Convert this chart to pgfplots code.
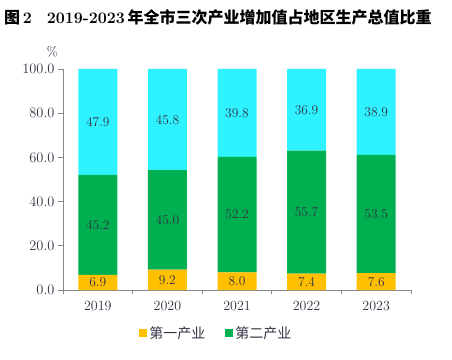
\documentclass[border=0pt]{standalone}
\usepackage{fontspec}
\usepackage{pgfplots}
\pgfplotsset{compat=1.18}
\newfontfamily\cjk{Noto Sans CJK SC}
\definecolor{cOrange}{HTML}{FFC000}
\definecolor{cGreen}{HTML}{00B050}
\definecolor{cCyan}{HTML}{2EF2FF}
\definecolor{cText}{HTML}{333344}
\definecolor{cAxis}{HTML}{888888}
\begin{document}
\begin{tikzpicture}[x=1pt,y=1pt]
\path[use as bounding box] (0,0) rectangle (452,359);
\node[anchor=west, inner sep=0pt, text=black] at (4,342)
  {\fontsize{16}{18}\selectfont\bfseries{\cjk 图}\,2\hspace{15pt}2019-2023\,{\cjk 年全市三次产业增加值占地区生产总值比重}};
\node[anchor=east, inner sep=0pt, text=cText] at (58,307) {\fontsize{13.5}{15}\selectfont\%};
\begin{axis}[
  at={(63pt,69pt)}, anchor=south west,
  scale only axis, width=348pt, height=221pt,
  ybar stacked, bar width=39pt,
  xmin=-0.5, xmax=4.5, ymin=0, ymax=100,
  axis x line*=bottom, axis y line*=left,
  axis line style={cAxis, line width=0.8pt},
  xtick={0,1,2,3,4},
  xticklabels={2019,2020,2021,2022,2023},
  major x tick style={draw=none},
  minor xtick={-0.5,0.5,1.5,2.5,3.5,4.5},
  minor x tick style={cAxis, line width=0.8pt},
  minor tick length=4pt,
  ytick={0,20,40,60,80,100},
  major y tick style={cAxis, line width=0.8pt},
  major tick length=5pt,
  tick align=outside,
  yticklabel style={/pgf/number format/.cd, fixed, fixed zerofill, precision=1},
  ticklabel style={font=\fontsize{14}{16}\selectfont, text=cText},
  xticklabel style={yshift=-3pt},
  nodes near coords,
  point meta=explicit symbolic,
  every node near coord/.append style={font=\fontsize{13.5}{15}\selectfont, text=cText, anchor=center},
  legend columns=2,
  legend style={at={(0.441,-0.195)}, anchor=center, draw=none, fill=none,
    font=\fontsize{14}{16}\selectfont\cjk, text=cText,
    /tikz/every even column/.append style={column sep=18pt}},
  legend image code/.code={\fill[#1] (0pt,-4pt) rectangle (8pt,4pt);},
  clip=false,
]
\addplot[fill=cOrange, draw=none] coordinates {(0,6.9)[6.9] (1,9.2)[9.2] (2,8.0)[8.0] (3,7.4)[7.4] (4,7.6)[7.6]};
\addlegendentry{第一产业}
\addplot[fill=cGreen, draw=none] coordinates {(0,45.2)[45.2] (1,45.0)[45.0] (2,52.2)[52.2] (3,55.7)[55.7] (4,53.5)[53.5]};
\addlegendentry{第二产业}
\addplot[fill=cCyan, draw=none, forget plot] coordinates {(0,47.9)[47.9] (1,45.8)[45.8] (2,39.8)[39.8] (3,36.9)[36.9] (4,38.9)[38.9]};
\end{axis}
\end{tikzpicture}
\end{document}
